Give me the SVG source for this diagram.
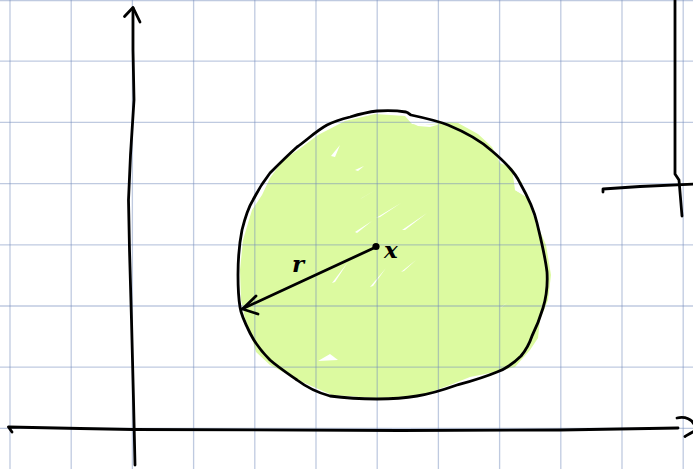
<svg xmlns="http://www.w3.org/2000/svg" width="693" height="469" viewBox="0 0 693 469">
  <style>
    .grid line { stroke: #7189bb; stroke-opacity: 0.45; stroke-width: 1.3; }
    .ink { fill: none; stroke: #000; stroke-width: 2.8; stroke-linecap: round; stroke-linejoin: round; }
    .gap { fill: #fff; stroke: none; }
    .lbl { font-family: "DejaVu Serif", "Liberation Serif", serif; font-style: italic; font-weight: bold; font-size: 23px; fill: #000; }
  </style>
  <rect x="0" y="0" width="693" height="469" fill="#fff"/>

  <g id="disk">
    <path fill="#dcfaa0" d="M345,121 L375,114 L405,116 L412,124 L425,125 L448,122 L458,123 L478,134 L492,147 L500,163 L512,168 L522,183 L515,190 L527,197 L533,215 L546,245 L551,275 L548,300 L540,320 L538,338 L530,350 L515,367 L500,371 L470,377 L450,385 L420,396 L377,398 L332,395 L300,381 L270,365 L256,352 L251,335 L245,318 L241,300 L240,270 L243,240 L252,210 L262,195 L270,178 L283,160 L298,150 L318,135 Z"/>
    <polygon class="gap" points="331,156 340,145 335,157"/>
    <polygon class="gap" points="355,170 364,166 358,171"/>
    <polygon class="gap" points="360,199 377,189 362,198"/>
    <polygon class="gap" points="376,218 401,203 380,217"/>
    <polygon class="gap" points="402,230 427,213 405,230"/>
    <polygon class="gap" points="355,232 372,221 357,233"/>
    <polygon class="gap" points="332,283 348,262 335,282"/>
    <polygon class="gap" points="370,287 386,268 373,286"/>
    <polygon class="gap" points="401,272 416,260 404,271"/>
    <polygon class="gap" points="318,361 330,354 338,360"/>
    <polygon class="gap" points="500,308 508,302 502,307"/>
    <polygon class="gap" points="412,123 425,125 440,124 430,127 418,126"/>
    <polygon class="gap" points="512,168 520,183 530,190 528,198 515,190"/>
  </g>

  <g id="grid" class="grid">
    <line x1="10" y1="0" x2="10" y2="469"/>
    <line x1="71.2" y1="0" x2="71.2" y2="469"/>
    <line x1="132.4" y1="0" x2="132.4" y2="469"/>
    <line x1="193.6" y1="0" x2="193.6" y2="469"/>
    <line x1="254.8" y1="0" x2="254.8" y2="469"/>
    <line x1="316" y1="0" x2="316" y2="469"/>
    <line x1="377.2" y1="0" x2="377.2" y2="469"/>
    <line x1="438.4" y1="0" x2="438.4" y2="469"/>
    <line x1="499.6" y1="0" x2="499.6" y2="469"/>
    <line x1="560.8" y1="0" x2="560.8" y2="469"/>
    <line x1="622" y1="0" x2="622" y2="469"/>
    <line x1="683.2" y1="0" x2="683.2" y2="469"/>
    <line x1="0" y1="0.5" x2="693" y2="0.5"/>
    <line x1="0" y1="61.2" x2="693" y2="61.2"/>
    <line x1="0" y1="122.4" x2="693" y2="122.4"/>
    <line x1="0" y1="183.6" x2="693" y2="183.6"/>
    <line x1="0" y1="244.8" x2="693" y2="244.8"/>
    <line x1="0" y1="306" x2="693" y2="306"/>
    <line x1="0" y1="367.2" x2="693" y2="367.2"/>
    <line x1="0" y1="428.4" x2="693" y2="428.4"/>
  </g>

  <g id="outline">
    <path class="ink" d="M377,111 C390,110 400,111 406,112 C409,113 409,114 411,115 C425,118 438,121 448,125 C465,132 480,140 492,151 C505,162 515,172 520,183 C528,197 534,210 537,223 C541,240 545,255 547,272 C548,288 546,298 543,308 C540,318 536,328 532,336 C529,345 526,350 521,356 C512,365 505,369 497,372 C480,379 468,382 457,385 C443,390 430,394 417,396 C400,399 390,399 377,399 C360,399 345,398 330,396 C315,392 305,386 297,380 C287,373 278,367 270,360 C262,352 255,343 250,333 C245,323 241,315 240,307 C238,295 238,285 238,275 C238,262 238,250 242,230 C245,218 248,208 253,200 C258,190 263,182 270,173 C280,163 288,155 297,147 C307,140 316,131 327,125 C335,121 342,119 350,117 C360,114 368,112 377,111 Z"/>
  </g>

  <g id="axes">
    <path class="ink" d="M135,465 L133.5,400 L131.5,320 L129.5,250 L128.5,200 L130.5,155 L134,100 L133,50 L133,8"/>
    <path class="ink" d="M124.5,16.5 L133,7.5 L140,22"/>
    <path class="ink" d="M12,432 L8.5,427 L80,428.5 L133,429.5 L400,430.5 L560,430 L678,428"/>
    <path class="ink" d="M677,418 C686,416 692,420 694,424"/>
    <path class="ink" d="M685,436.5 C689,434 692,432 695,431"/>
    <path class="ink" d="M675,0 L675,174 L679,180 L682,216"/>
    <path class="ink" d="M603,192 L603,189 L640,186.5 L695,184"/>
  </g>

  <g id="connectors">
    <path class="ink" d="M376,247 L242,309"/>
    <path class="ink" d="M256,296 L242.5,309 L258,314"/>
  </g>

  <g id="center">
    <circle cx="376" cy="246.5" r="3.6" fill="#000"/>
    <text class="lbl" x="384" y="258">x</text>
  </g>
  <g id="radius-label">
    <text class="lbl" x="292" y="272">r</text>
  </g>
</svg>
